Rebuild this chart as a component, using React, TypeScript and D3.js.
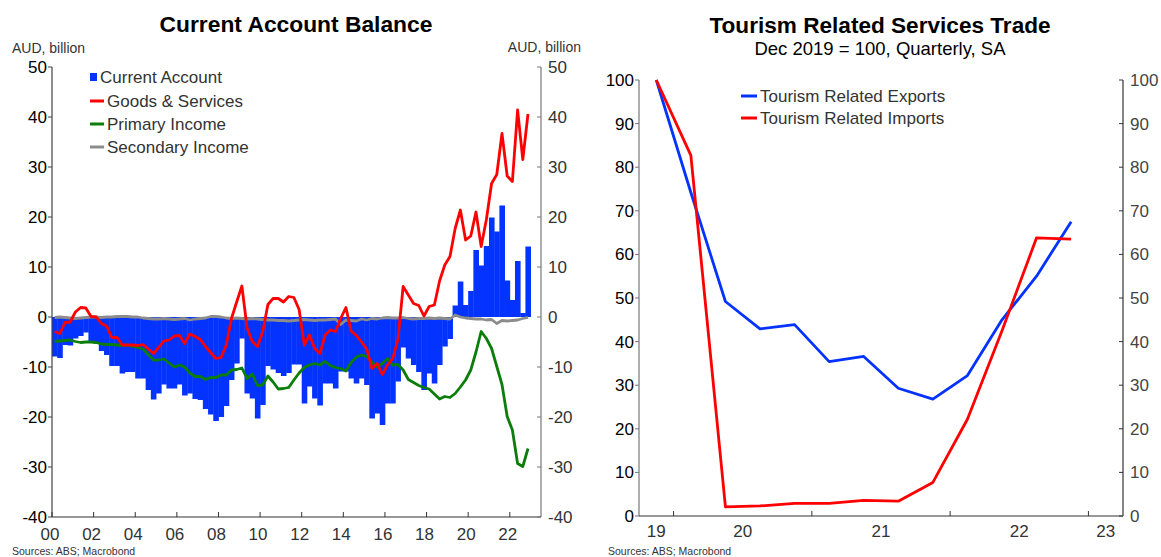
import React from 'react';
import * as d3 from 'd3';

// Current account, AUD bn, quarterly 2000Q1 .. 2022Q4
const quarters: number[] = d3.range(2000, 2023, 0.25);

const currentAccount = [
  -7.9, -8.2, -5.6, -5.7, -4.3, -3.8, -3.1, -5.0, -5.3, -6.8,
  -7.6, -9.8, -9.8, -11.3, -11.0, -11.0, -12.3, -12.3, -14.6, -16.5,
  -15.3, -13.5, -14.3, -14.3, -13.5, -15.7, -15.3, -16.4, -16.6, -18.4,
  -19.5, -20.8, -20.0, -17.8, -12.6, -9.3, -4.3, -15.3, -16.3, -20.3,
  -17.6, -9.8, -10.5, -11.2, -11.8, -11.2, -9.5, -9.5, -17.3, -13.9,
  -16.3, -17.7, -13.3, -13.3, -14.3, -10.9, -10.9, -12.3, -13.3, -12.3,
  -13.6, -20.3, -19.3, -21.6, -17.3, -17.3, -12.9, -6.1, -8.3, -9.6,
  -11.0, -14.6, -11.3, -13.3, -9.6, -5.9, -4.4, 2.3, 7.1, 2.4,
  5.2, 13.4, 10.3, 14.2, 19.9, 17.1, 22.3, 7.3, 3.4, 11.2,
  0.8, 14.1,
];

const goodsServices = [
  -2.9, -3.3, -1.1, -1.0, 1.0, 1.9, 1.8, 0.1, 0.0, -1.3,
  -1.8, -4.1, -4.1, -5.6, -5.6, -5.6, -5.7, -5.5, -6.4, -7.3,
  -6.1, -4.8, -4.6, -3.8, -3.7, -5.3, -3.4, -3.9, -4.5, -5.9,
  -7.1, -8.3, -8.1, -5.6, -0.3, 3.0, 6.2, -2.2, -4.9, -5.9,
  -3.0, 2.5, 3.7, 3.7, 3.0, 4.1, 3.9, 1.5, -5.6, -3.6,
  -6.3, -7.3, -3.6, -2.6, -2.9, -0.3, 1.9, -2.8, -3.7, -5.0,
  -6.4, -10.3, -9.3, -11.5, -9.6, -8.3, -4.5, 6.1, 4.4, 2.7,
  2.3, 0.2, 2.1, 2.4, 7.2, 10.4, 12.1, 17.7, 21.4, 15.4,
  16.2, 21.0, 14.1, 19.5, 26.7, 28.5, 36.7, 28.2, 27.1, 41.4,
  31.5, 40.6,
];

const primaryIncome = [
  -4.9, -4.8, -4.7, -4.6, -4.9, -5.1, -5.0, -5.0, -5.1, -5.4,
  -5.5, -5.5, -5.6, -5.7, -5.6, -5.9, -6.1, -6.4, -7.5, -8.6,
  -8.6, -8.4, -9.2, -10.0, -9.6, -10.0, -11.2, -11.9, -11.9, -12.5,
  -12.1, -12.1, -11.6, -11.6, -10.6, -10.5, -10.2, -12.3, -11.4, -13.7,
  -13.6, -11.8, -13.0, -14.4, -14.3, -14.1, -12.6, -11.2, -10.1, -9.6,
  -9.3, -9.6, -8.9, -9.7, -10.1, -10.3, -10.8, -9.1, -8.0, -7.6,
  -7.9, -9.0, -10.0, -9.3, -8.3, -9.6, -9.5, -10.6, -12.5, -13.1,
  -13.7, -14.1, -14.4, -15.4, -16.4, -15.9, -16.1, -15.3, -14.0, -12.6,
  -10.6, -7.0, -2.9, -4.3, -6.3, -9.9, -13.5, -19.9, -22.6, -29.3,
  -29.9, -26.3,
];

const secondaryIncome = [
  -0.1, 0.0, -0.1, -0.2, -0.3, -0.2, -0.1, 0.0, 0.0, -0.1,
  0.0, 0.0, 0.1, 0.1, 0.1, 0.0, 0.0, -0.2, -0.3, -0.4,
  -0.4, -0.3, -0.4, -0.5, -0.4, -0.3, -0.6, -0.4, -0.3, -0.2,
  0.1, 0.1, 0.0, -0.2, -0.3, -0.2, -0.3, -0.4, -0.3, -0.4,
  -0.5, -0.6, -0.6, -0.7, -0.7, -0.8, -0.7, -0.6, -0.5, -0.6,
  -0.7, -0.6, -0.6, -0.5, -0.4, -1.5, -0.6, -0.7, -0.8, -0.4,
  -0.6, -0.3, -0.4, -0.2, -0.1, -0.2, -0.2, -0.1, -0.3, -0.4,
  -0.3, -0.3, -0.2, -0.3, -0.2, -0.3, -0.4, 0.4, 0.0, -0.2,
  -0.3, -0.4, -0.4, -0.6, -0.5, -1.3, -0.7, -0.8, -0.7, -0.6,
  -0.3, -0.1,
];

const leftYTicks = [-40, -30, -20, -10, 0, 10, 20, 30, 40, 50];
const leftXTicks = [2000, 2002, 2004, 2006, 2008, 2010, 2012, 2014, 2016, 2018, 2020, 2022];
const leftXLabels = ['00', '02', '04', '06', '08', '10', '12', '14', '16', '18', '20', '22'];

// Tourism, Dec 2019 = 100, quarterly Q4 2019 .. Q4 2022
const tourismQuarters = [
  2019.75, 2020, 2020.25, 2020.5, 2020.75, 2021, 2021.25, 2021.5, 2021.75,
  2022, 2022.25, 2022.5, 2022.75,
];
const tourismExports = [100, 74.2, 49.2, 42.9, 43.9, 35.4, 36.6, 29.3, 26.8, 32.2, 45.0, 55.0, 67.5];
const tourismImports = [100, 82.7, 2.1, 2.3, 2.9, 2.9, 3.6, 3.4, 7.7, 22.2, 42.5, 63.8, 63.5];

const rightYTicks = [0, 10, 20, 30, 40, 50, 60, 70, 80, 90, 100];
const rightXTicks = [2020, 2021, 2022, 2023];
const rightXLabels = ['19', '20', '21', '22', '23'];
const rightXLabelPos = [2019.875, 2020.5, 2021.5, 2022.5, 2023.125];

const FONT = '"Liberation Sans", Arial, sans-serif';
const BLUE = '#0433ff';
const RED = '#ff0000';
const GREEN = '#0a7d0a';
const GRAY = '#8c8c8c';

const App = () => {
  const xL = d3.scaleLinear().domain([2000, 2023.5]).range([52, 541]);
  const yL = d3.scaleLinear().domain([-40, 50]).range([517, 67]);
  const xR = d3.scaleLinear().domain([2019.75, 2023.25]).range([639, 1123]);
  const yR = d3.scaleLinear().domain([0, 100]).range([516, 80]);

  const qLine = (vals: number[]) =>
    d3.line<number>()
      .x((_, i) => xL(quarters[i] + 0.125))
      .y(d => yL(d))(vals) || '';

  const tLine = (vals: number[]) =>
    d3.line<number>()
      .x((_, i) => xR(tourismQuarters[i] + 0.125))
      .y(d => yR(d))(vals) || '';

  const barW = xL(0.25) - xL(0);

  return (
    <div style={{ position: 'fixed', left: 0, top: 0 }}>
      <svg width={1161} height={557} style={{ display: 'block', background: '#fff' }} fontFamily={FONT}>
        {/* ---------- Left chart ---------- */}
        <text x={296} y={32} textAnchor="middle" fontSize={22.8} fontWeight="bold" fill="#000">
          Current Account Balance
        </text>
        <text x={12} y={53} fontSize={14} fill="#333">AUD, billion</text>
        <text x={581} y={52} fontSize={14} fill="#333" textAnchor="end">AUD, billion</text>

        {/* bars */}
        {currentAccount.map((v, i) => (
          <rect
            key={'b' + i}
            x={xL(quarters[i])}
            width={barW + 0.4}
            y={yL(Math.max(0, v))}
            height={Math.abs(yL(v) - yL(0))}
            fill={BLUE}
          />
        ))}
        <path d={qLine(secondaryIncome)} fill="none" stroke={GRAY} strokeWidth={2.8} strokeLinejoin="round" />
        <path d={qLine(primaryIncome)} fill="none" stroke={GREEN} strokeWidth={2.8} strokeLinejoin="round" />
        <path d={qLine(goodsServices)} fill="none" stroke={RED} strokeWidth={2.8} strokeLinejoin="round" />

        {/* axes */}
        <line x1={52} x2={52} y1={67} y2={517} stroke="#444" strokeWidth={1.2} />
        <line x1={541} x2={541} y1={67} y2={517} stroke="#777" strokeWidth={1.2} />
        <line x1={52} x2={541} y1={517} y2={517} stroke="#333" strokeWidth={1.2} />
        {leftYTicks.map(t => (
          <g key={'ly' + t}>
            <line x1={48} x2={52} y1={yL(t)} y2={yL(t)} stroke="#444" />
            <line x1={537} x2={541} y1={yL(t)} y2={yL(t)} stroke="#777" />
            <text x={47} y={yL(t) + 6} textAnchor="end" fontSize={17} fill="#000">{t}</text>
            <text x={548} y={yL(t) + 6} fontSize={17} fill="#333">{t}</text>
          </g>
        ))}
        {leftXTicks.map((t, i) => (
          <g key={'lx' + t}>
            <line x1={xL(t)} x2={xL(t)} y1={512} y2={517} stroke="#333" />
            <text x={xL(t) - 2} y={540} textAnchor="middle" fontSize={17} fill="#333">{leftXLabels[i]}</text>
          </g>
        ))}

        {/* legend */}
        <rect x={90} y={73} width={7} height={8} fill={BLUE} />
        <text x={100} y={83} fontSize={17} fill="#333">Current Account</text>
        <line x1={90} x2={104} y1={101} y2={101} stroke={RED} strokeWidth={3} />
        <text x={107} y={107} fontSize={17} fill="#333">Goods &amp; Services</text>
        <line x1={90} x2={104} y1={124} y2={124} stroke={GREEN} strokeWidth={3} />
        <text x={107} y={130} fontSize={17} fill="#333">Primary Income</text>
        <line x1={90} x2={104} y1={147} y2={147} stroke={GRAY} strokeWidth={3} />
        <text x={107} y={153} fontSize={17} fill="#333">Secondary Income</text>

        <text x={12} y={555} fontSize={10.5} fill="#333">Sources: ABS; Macrobond</text>

        {/* ---------- Right chart ---------- */}
        <text x={880} y={33} textAnchor="middle" fontSize={22.6} fontWeight="bold" fill="#000">
          Tourism Related Services Trade
        </text>
        <text x={880} y={55} textAnchor="middle" fontSize={18.5} fill="#000">
          Dec 2019 = 100, Quarterly, SA
        </text>

        <path d={tLine(tourismExports)} fill="none" stroke={BLUE} strokeWidth={2.8} strokeLinejoin="round" />
        <path d={tLine(tourismImports)} fill="none" stroke={RED} strokeWidth={2.8} strokeLinejoin="round" />

        <line x1={639} x2={639} y1={80} y2={516} stroke="#777" strokeWidth={1.2} />
        <line x1={1123} x2={1123} y1={80} y2={516} stroke="#333" strokeWidth={1.2} />
        <line x1={639} x2={1123} y1={516} y2={516} stroke="#333" strokeWidth={1.2} />
        {rightYTicks.map(t => (
          <g key={'ry' + t}>
            <line x1={635} x2={639} y1={yR(t)} y2={yR(t)} stroke="#777" />
            <line x1={1119} x2={1123} y1={yR(t)} y2={yR(t)} stroke="#333" />
            <text x={634} y={yR(t) + 6} textAnchor="end" fontSize={17} fill="#000">{t}</text>
            <text x={1130} y={yR(t) + 6} fontSize={17} fill="#444">{t}</text>
          </g>
        ))}
        {rightXTicks.map(t => (
          <line key={'rxt' + t} x1={xR(t)} x2={xR(t)} y1={511} y2={516} stroke="#333" />
        ))}
        {rightXLabels.map((l, i) => (
          <text key={'rxl' + l} x={xR(rightXLabelPos[i])} y={537} textAnchor="middle" fontSize={17} fill="#333">{l}</text>
        ))}

        <line x1={741} x2={757} y1={96} y2={96} stroke={BLUE} strokeWidth={3} />
        <text x={760} y={102} fontSize={17} fill="#333">Tourism Related Exports</text>
        <line x1={741} x2={757} y1={118} y2={118} stroke={RED} strokeWidth={3} />
        <text x={760} y={124} fontSize={17} fill="#333">Tourism Related Imports</text>

        <text x={608} y={555} fontSize={10.5} fill="#333">Sources: ABS; Macrobond</text>
      </svg>
    </div>
  );
};

export default App;
